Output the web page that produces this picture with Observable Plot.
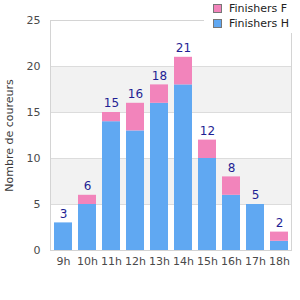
<!DOCTYPE html>
<html><head><meta charset="utf-8">
<script src="https://cdn.jsdelivr.net/npm/d3@7"></script>
<script src="https://cdn.jsdelivr.net/npm/@observablehq/plot@0.6"></script>
<style>
body{margin:0;background:#fff;font-family:"DejaVu Sans",Verdana,sans-serif;}
#wrap{position:relative;width:300px;height:300px;}
#legend{position:absolute;left:204px;top:0;width:96px;height:33px;background:#fff;font-size:11px;color:#222;}
.li{position:absolute;left:9px;display:flex;align-items:center;}
.sw{width:7px;height:7px;border:1px solid #777;margin-right:7px;}
</style></head>
<body><div id="wrap"><div id="legend"></div></div>
<script>
const hours = ["9h","10h","11h","12h","13h","14h","15h","16h","17h","18h"];
const finH = [3,5,14,13,16,18,10,6,5,1];
const finF = [0,1,1,3,2,3,2,2,0,1];
const series = ["Finishers H","Finishers F"];
const colors = ["#60a8f2","#f284bb"];
const yTicks = [0,5,10,15,20,25];
const bandsLo = [5,15];
const bandsHi = [10,20];

const rows = [];
hours.forEach((h,i)=>{
  rows.push({hour:h, serie:series[0], v:finH[i]});
  rows.push({hour:h, serie:series[1], v:finF[i]});
});
const totals = hours.map((h,i)=>({hour:h, total:finH[i]+finF[i]}));
const bands = bandsLo.map((lo,i)=>({lo, hi:bandsHi[i]}));

const chart = Plot.plot({
  width:300, height:300,
  marginTop:20, marginBottom:50, marginLeft:50, marginRight:9,
  style:{fontFamily:"DejaVu Sans, Verdana, sans-serif", fontSize:"11px", color:"#4a4a4a", background:"transparent"},
  x:{domain:hours, paddingInner:0.25, paddingOuter:0.125, label:null, tickSize:0, tickPadding:7},
  y:{domain:[0,25], ticks:yTicks, label:null, tickSize:0, tickPadding:10},
  color:{domain:series, range:colors},
  marks:[
    Plot.rectY(bands,{y1:"lo", y2:"hi", fill:"#f2f2f2"}),
    Plot.ruleY(yTicks.slice(1,-1),{stroke:"#dcdcdc"}),
    Plot.barY(rows, Plot.stackY({x:"hour", y:"v", fill:"serie", order:series})),
    Plot.text(totals,{x:"hour", y:"total", text:d=>String(d.total), dy:-9, fill:"#1f1f94", fontSize:12}),
    Plot.frame({stroke:"#d4d4d4"}),
    Plot.text(["Nombre de coureurs"],{frameAnchor:"left", textAnchor:"middle", rotate:-90, dx:-41, fill:"#3a3a3a", fontSize:11})
  ]
});
document.getElementById("wrap").prepend(chart);
chart.style.position="absolute"; chart.style.left="0"; chart.style.top="0";

const lg = document.getElementById("legend");
[["Finishers F",colors[1],4],["Finishers H",colors[0],19]].forEach(([t,c,top])=>{
  const d=document.createElement("div"); d.className="li"; d.style.top=(top-2)+"px";
  d.innerHTML=`<span class="sw" style="background:${c}"></span><span>${t}</span>`;
  lg.appendChild(d);
});
</script></body></html>
